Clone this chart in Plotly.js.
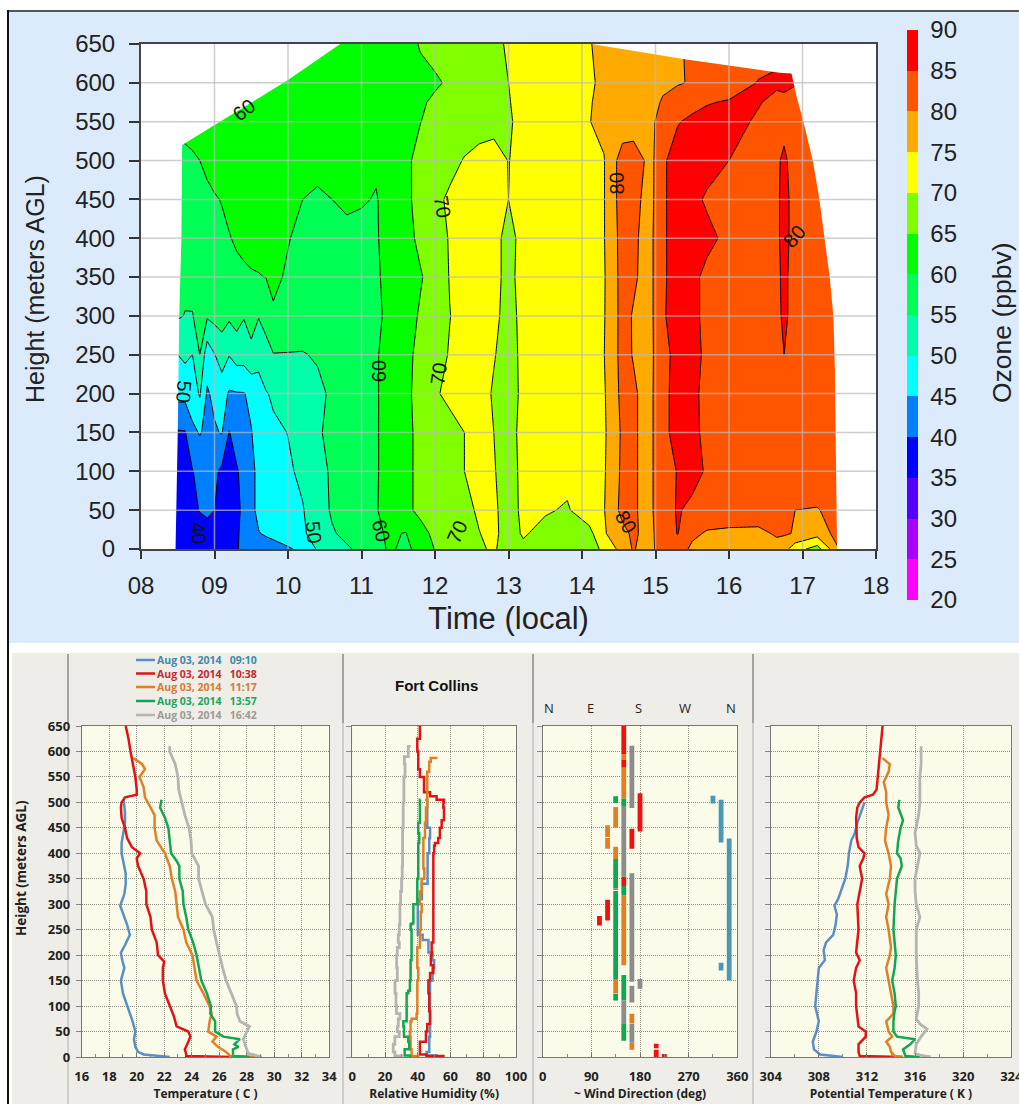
<!DOCTYPE html>
<html>
<head>
<meta charset="utf-8">
<script src="https://cdn.plot.ly/plotly-3.0.1.min.js"></script>
<style>html,body{margin:0;padding:0;background:#fff}#chart{width:1019px;height:1104px}</style>
</head>
<body>
<div id="chart"></div>
<script>
// ---------- ozone curtain data ----------
const ozoneTimes = [8.45,8.6,8.7,8.8,8.9,9,9.1,9.2,9.3,9.4,
  9.5,9.6,9.7,9.8,10,10.2,10.4,10.6,10.8,11,
  11.2,11.4,11.6,11.8,12,12.2,12.4,12.6,12.8,13,
  13.2,13.5,13.8,14.1,14.3,14.55,14.7,14.9,15,15.1,
  15.3,15.5,15.7,16,16.4,16.65,16.75,16.9,17.2,17.5];
const ozoneHeights = [0,20,50,100,150,200,250,300,350,400,450,500,550,575,600,650];
const o3_0 = [35.5,36,36,36.5,37,37,37,37,39.5,41.5,
  42.5,43,43,43.5,44.5,46,50.5,53,54.5,56,
  59,60.5,59,61.5,65.2,68,69.5,69.5,70.5,68,
  69,68,68,68,71,77,80.5,77,80.4,81,
  82.5,79,78.5,78,78,78.5,77,72,68,80];
const o3_20 = [35.5,36,36.5,37,38,38.5,37,36.5,39,42,
  44,44.8,45.5,46,47.5,49.5,51.5,54.6,56,57,
  59.5,60.5,59.8,63.5,66,67,68,69.9,71,68,
  70.5,68.5,68,68.5,74.5,78.5,81,78,80.5,81.5,
  85.2,81,79.5,79,79,80.5,80.5,79.7,77,82];
const o3_50 = [36,37,38.5,40.3,41,40,37.5,36.5,38.5,41.5,
  44,46,47,47.5,48.5,49.7,53,55.5,57.5,58.8,
  59.8,61.5,64,66,67.5,68,69,70.5,70.8,68,
  71,70.5,69.5,73,74.8,81.5,80.8,78,81,82.5,
  85.4,84,83,83,82.5,82,81,80,79.7,82];
const o3_100 = [37,38,39.8,41.5,43,41,39,37.5,39.5,41.5,
  44,46,47,47.8,49.3,51,53.5,55.6,57.5,58.8,
  59.7,61.5,64,66,67.5,68.5,70,71.5,70.3,68,
  71.2,72,71.5,73.5,74.5,81,80.8,78,81,83,
  85.2,86.5,84.5,83,83,83.5,83,84,83.5,83];
const o3_150 = [39.5,39.7,44,45.3,44,44.5,45.3,39.8,42,44,
  44.8,47,48,49,50.1,52,54.5,56,57.5,58.5,
  59.7,61.5,64,66,67.5,68.5,70,72,70,68.5,
  71.2,72,73,74,74.3,80.8,80.8,78,81,83.5,
  87,86,84,83,83,83,83,83,82.5,83];
const o3_200 = [46.5,46.5,47.5,50.5,44.5,46,47,44.5,44.7,44.8,
  46,47.5,49.6,50.8,52,53,53.8,55.8,57,58.5,
  59.7,61.5,64,66.5,69.5,71,72,72,69.5,68,
  71,72,73,74,74.5,81.4,80.8,78,81,83.5,
  87,85.8,84,83,83,83,83.5,83,83,83];
const o3_250 = [49.5,51,50,55,47,49.8,52.5,50.2,52,52,
  54,52,54.5,54.8,54.8,54.7,55.5,56.5,57,58,
  59.7,61.5,64,66,68.3,70.3,71.5,71.8,70.3,68,
  71.2,72,73,74,74.9,81.7,79.7,78,80.8,83.5,
  86.5,85.8,84.5,83,83,84,85,84,83,83];
const o3_300 = [56,54.8,54.8,57,55.6,56.5,56.8,55.8,57,55.3,
  56.5,55.2,55.5,59.5,58,58,58,58,58,58.5,
  59.3,61,63,65.5,67.5,69.9,71.5,71.5,71,68.5,
  71.2,72,73,73.5,74.7,81.7,79.6,78,81,84.5,
  87,87,83,83,83,84.3,85.5,84,83,82];
const o3_350 = [56,56.3,56.5,57,57,57.5,58,58.5,59,59.3,
  59.6,59.8,60.1,60.8,59.5,58.5,58,58,58,58.5,
  59.6,61,62.8,64.6,67,70.2,72,72.3,71,69,
  71.3,72,73,74,74.6,81.8,80.8,78,81,84.3,
  87,86,84,83,83,84.5,85.5,84,83,82];
const o3_400 = [56,56.5,57,57.5,58,58.5,59,59.8,60.5,61,
  61.5,61.5,61.5,61,60.2,59,58.5,58.5,58.5,59,
  59.7,61.5,63.5,66,68,70.3,72,72,71,69,
  71,72,73,74,74.8,81.9,81,78,81,84.3,
  87,87,86,84,83,84.5,85.8,84,83,82];
const o3_450 = [57,57.5,58,58.5,59,59.6,60.2,61,61.5,62,
  62,62,62,62,61,60,59,60,61,60.3,
  59.8,61.5,64,66.5,68.8,70.8,71.5,72,71.5,70,
  71,72,73,74,74.8,82.4,81.5,78.5,80.5,84.3,
  87,86,84.5,83,83,84.5,85.8,84,83,82];
const o3_500 = [58,58.5,59.3,60,61,62,62,62,62,62,
  62,62,62,62,62,62,62,62,62,61,
  60.5,62,64,66.5,67.5,68.5,70.3,71.5,71.5,69.9,
  71.2,72,73,74,74.8,82.4,82,79.3,80.2,84.3,
  87,87,86.5,85,83.5,84.5,85.6,83.5,83,82];
const o3_550 = [62,62,62,62,62,62,62,62,62,62,
  62,62,62,62,62,62,62,62,62,63,
  63.5,64,64.5,64.9,66.5,67,67.5,68,68.8,69.6,
  71,72,73.5,74.9,76,77,78,79,80.1,82,
  84.7,86,86.5,86,84.6,83.5,84,84,83,82];
const o3_575 = [62,62,62,62,62,62,62,62,62,62,
  62,62,62,62,62,62,62,62,62,63,
  63.2,63.8,64.2,64.6,65.5,66.2,67,67.8,68.8,69.8,
  71.2,72.2,73.5,74.8,75.8,76.8,77.5,78.5,79.2,80.5,
  82.5,83.5,84.7,85.4,85.2,84.2,84.5,84.5,83,82];
const o3_600 = [62,62,62,62,62,62,62,62,62,62,
  62,62,62,62,62,62,62,62,62.5,63,
  63,63.5,64,64.3,64.6,65.4,66.5,67.5,68.8,70,
  71.5,72.5,73.5,74.6,75.6,76.5,77,78,78.5,79,
  79.6,80.4,81.5,82.5,85.2,85.5,85.5,85.1,83,82];
const o3_650 = [61,61,61,61,61,61,61,61,61,61,
  61,61,61,61,61,61,61,61,62,62.5,
  63,63.5,64,65.2,66,67,67.5,68,69,70.5,
  71.5,72.5,73.5,74.8,76,77,77.5,78,78.5,79,
  79.6,80.6,81.5,82,83,84,85.5,85.5,84,83];
const ozoneRows = [o3_0,o3_20,o3_50,o3_100,o3_150,o3_200,o3_250,o3_300,o3_350,o3_400,o3_450,o3_500,o3_550,o3_575,o3_600,o3_650];

// edge of the sampled area: [time, height], bottom-left, over the top, down to bottom-right
const sampledEdge = [[8.47,0],[8.5,150],[8.52,300],[8.55,400],[8.56,520],[8.99,545],[9.99,603],[10.71,650],[14.13,650],
  [15.42,630],[16.69,613],[16.85,612],[16.92,582],[17.01,551],[17.14,500],[17.23,450],[17.3,400],[17.37,350],[17.42,300],[17.44,233],[17.47,0]];

const ozoneBandColors = ['#ff00ff','#aa00ff','#5500ff','#0000ff','#0080ff','#00ffff','#00ffaa','#00ff55','#00ff00','#80ff00','#ffff00','#ffaa00','#ff5500','#ff0000'];
const ozoneTicks = [20,25,30,35,40,45,50,55,60,65,70,75,80,85,90];
const hourTicks = [8,9,10,11,12,13,14,15,16,17,18];
const hourLabels = ['08','09','10','11','12','13','14','15','16','17','18'];
const heightTicks = [0,50,100,150,200,250,300,350,400,450,500,550,600,650];

// [text, time, height, angle]
const contourLabels = [['60',9.4,565,-38],['50',8.58,203,95],['40',8.78,20,85],['50',10.35,22,85],['60',11.26,24,75],
  ['60',11.24,229,-90],['70',12.05,225,-82],['70',12.1,440,80],['70',12.3,22,-65],['80',14.47,470,-92],['80',16.89,403,-50],['80',14.6,35,60]];

// ---------- profile data: [height, value] ----------
const seriesNames = ['Aug 03, 2014\u00a0\u00a0\u00a009:10','Aug 03, 2014\u00a0\u00a0\u00a010:38','Aug 03, 2014\u00a0\u00a0\u00a011:17','Aug 03, 2014\u00a0\u00a0\u00a013:57','Aug 03, 2014\u00a0\u00a0\u00a016:42'];
const seriesColors = ['#5a8fc3','#e01414','#e07f26','#12a552','#b4b4b0'];
const legendTextColors = ['#3f88ad','#c22a30','#d27c35','#1fa562','#9a9a98'];
const windColors = ['#4a98b6','#f01010','#e08020','#12a552','#8c8c8c'];

const tempBlue = [[0,22.4],[3,21.2],[5,20.5],[10,20.1],[20,19.9],[35,19.8],[50,19.9],[70,19.7],[100,19.3],[125,19],[150,18.85],[175,19.1],[190,18.95],[205,18.85],[220,19.15],[240,19.5],[260,19.3],[280,19.05],[297,18.8],[320,19.1],[340,19.2],[360,19.2],[380,19.05],[400,18.9],[420,18.9],[440,19.05],[460,19.15],[480,19.15],[505,19.05]];
const tempRed = [[0,27],[2,23.6],[5,23.6],[15,23.5],[30,23.75],[40,23.9],[50,23.75],[60,22.9],[80,22.7],[100,22.4],[125,22.05],[150,21.9],[175,21.9],[187,22],[200,21.55],[225,21.45],[250,21.1],[275,21],[300,20.7],[325,20.7],[350,20.5],[375,20.1],[390,20],[400,20.25],[412,19.65],[430,19.3],[450,19.15],[470,18.9],[490,18.85],[500,18.9],[510,19.15],[515,20],[525,20],[550,19.9],[575,19.7],[600,19.55],[625,19.4],[650,19.2]];
const tempOrange = [[0,28.8],[2,26.8],[10,26.5],[20,25.9],[30,25.5],[40,25.8],[50,25.2],[70,25.3],[85,25.45],[100,25.3],[125,24.85],[150,24.35],[175,24.2],[200,24.05],[225,23.6],[250,23.4],[275,23],[300,22.9],[325,22.8],[350,22.55],[375,22.4],[400,22.05],[425,21.45],[450,21.3],[475,21.3],[490,21],[510,20.6],[530,20.5],[550,20.2],[565,20.6],[575,20.4],[587,19.75]];
const tempGreen = [[0,28.2],[2,27],[15,27],[20,27.4],[25,27.1],[35,27.5],[40,26.3],[50,25.7],[70,25.7],[85,25.35],[100,25.4],[125,25.1],[150,24.7],[175,24.55],[200,24.35],[225,24.1],[250,23.75],[275,23.6],[300,23.4],[325,23.35],[350,23.1],[375,23.1],[385,22.9],[400,22.5],[425,22.4],[450,22.3],[470,22.05],[490,21.7],[505,21.8]];
const tempGray = [[0,29.1],[3,28.7],[7,28.1],[15,28],[35,27.75],[50,28],[60,28.2],[70,27.5],[85,27.3],[100,27.25],[125,26.9],[150,26.5],[175,26.25],[200,26],[225,25.8],[250,25.6],[275,25.5],[300,25],[325,24.75],[350,24.5],[375,24.5],[400,24],[425,23.95],[450,23.8],[475,23.5],[500,23.25],[525,23.05],[550,23],[575,22.8],[600,22.4],[610,22.4]];

const rhBlue = [[0,51.5],[3,45.4],[10,47],[40,47.5],[100,47.5],[150,49],[175,50],[190,49],[205,46.5],[230,43],[240,40],[300,40],[310,42.5],[330,42.5],[340,46],[380,46],[400,47],[420,47],[430,47.5],[450,45.8],[490,45.8],[505,44.5]];
const rhRed = [[0,55.6],[2,45.4],[5,41.3],[15,41.3],[30,45],[50,45.8],[65,47.5],[90,47],[125,46.5],[150,47.5],[165,49.5],[180,48],[200,48.5],[225,49.5],[300,49.5],[350,49.5],[400,50],[415,50.5],[420,52.5],[430,53.5],[450,54.6],[465,56],[490,55.6],[500,56],[505,51.5],[512,47.5],[520,43.8],[550,41.3],[565,40.3],[600,39.7],[625,41.3],[650,41.7]];
const rhOrange = [[0,40.3],[2,36.2],[15,35.6],[40,35.2],[50,35.6],[70,36.2],[75,39.3],[85,39.7],[100,39.7],[130,39.7],[150,40.3],[175,39.7],[200,39.7],[215,41.3],[250,41.8],[285,42.4],[300,41.3],[325,42.4],[350,44],[370,43.4],[400,43.4],[430,44.4],[460,45],[480,45],[490,45.8],[510,45.8],[530,45.8],[560,47],[580,47.9],[587,52]];
const rhGreen = [[0,35.2],[3,32],[15,34.8],[30,34.2],[40,31.6],[60,31.2],[70,33.2],[100,33.2],[125,34.2],[130,35.2],[150,35.6],[175,35.6],[190,36.2],[200,36.2],[250,35.6],[260,36.2],[262,37.3],[280,37.3],[300,39.7],[350,40.3],[400,40.3],[420,40.9],[440,40.3],[460,41.3],[505,41.7]];
const rhGray = [[0,30],[2,26],[10,25],[25,26],[40,28.7],[50,27.5],[60,28.1],[75,29.1],[85,27],[100,26.7],[125,26.1],[150,27.5],[175,27.1],[200,27.5],[215,28.7],[225,28.1],[240,28.7],[260,29.1],[300,29.5],[325,30.1],[350,30.5],[375,30.7],[400,30.7],[450,31.1],[500,31.5],[550,32.2],[575,31.8],[590,34.2],[610,35.6]];

// [direction, bottom height, top height]
const windBlue = [[315,498,513],[330,421,505],[330,170,185],[345,150,429]];
const windRed = [[150,595,650],[150,568,583],[180,443,518],[165,409,448],[150,336,354],[120,268,309],[105,258,277],[210,17,26],[210,0,14],[225,0,6]];
const windOrange = [[150,583,595],[150,507,568],[135,450,491],[120,432,455],[120,409,430],[135,389,413],[135,328,331],[150,180,317],[135,125,153],[165,67,85],[165,14,28]];
const windGreen = [[135,499,512],[150,493,507],[135,331,389],[150,317,336],[135,153,326],[150,111,161],[135,111,124],[150,32,65]];
const windGray = [[165,489,611],[150,354,493],[165,148,361],[180,134,153],[165,107,140],[150,65,111],[165,28,66]];

const thetaBlue = [[0,310],[3,308.9],[5,308.1],[15,307.6],[30,307.5],[50,307.8],[70,308],[100,307.7],[125,307.8],[150,307.9],[175,308],[190,308.5],[210,308.4],[225,308.6],[240,309.2],[260,309.4],[280,309.5],[297,309.3],[310,309.6],[330,309.9],[350,310.2],[375,310.4],[400,310.5],[425,310.7],[440,311],[460,311.2],[480,311.5],[500,311.8]];
const thetaRed = [[0,315],[2,311.4],[10,311.3],[25,311.3],[40,311.9],[50,311.9],[60,311.3],[80,311.2],[100,311.1],[125,311.1],[150,310.9],[175,311.1],[190,311.4],[205,311.1],[225,311.2],[250,311.3],[300,311.2],[325,311.4],[350,311.6],[375,311.4],[390,311.7],[400,311.8],[412,311.3],[430,311.15],[450,311.15],[470,311.1],[490,311.2],[500,311.4],[510,311.8],[515,312.5],[525,312.8],[550,312.9],[575,313],[600,313.1],[625,313.2],[650,313.3]];
const thetaOrange = [[0,315],[2,314.3],[10,314],[20,313.9],[30,313.6],[40,314.1],[50,313.8],[70,313.6],[85,314.2],[100,314.2],[125,314],[150,313.8],[175,313.6],[200,313.9],[215,314],[250,313.8],[275,313.6],[300,313.8],[320,313.6],[350,313.9],[375,314],[400,313.8],[425,313.5],[450,313.6],[475,313.8],[500,313.6],[520,313.6],[540,313.4],[560,313.8],[575,313.9],[587,313.3]];
const thetaGreen = [[0,316.4],[2,315.2],[15,315],[25,315.6],[35,316],[40,314.5],[50,314.2],[70,314.2],[90,314.3],[100,314.4],[125,314.3],[150,314.1],[175,314.3],[200,314.4],[250,314.2],[300,314.3],[350,314.5],[375,314.9],[390,314.8],[400,314.5],[425,314.6],[450,314.8],[465,315],[490,314.6],[505,314.7]];
const thetaGray = [[0,317.3],[3,316.5],[8,316],[25,316.1],[40,316.5],[55,317],[65,316.4],[75,316.1],[100,316.3],[125,316.3],[150,316.2],[200,316.1],[250,316.1],[275,316.4],[300,316.1],[325,316],[350,316],[375,316.2],[400,316.4],[415,316.1],[440,316],[475,316.3],[500,316.4],[525,316.4],[550,316.4],[575,316.5],[600,316.5],[610,316.5]];

// ---------- helpers ----------
const W = 1019, H = 1104;
const fx = p => p / W;
const fy = p => 1 - p / H;
const arial = 'Liberation Sans, Arial, sans-serif';
const cal = '"Open Sans", Lato, sans-serif';

const colorscale = [];
ozoneBandColors.forEach((c, i) => {
  colorscale.push([i / ozoneBandColors.length, c]);
  colorscale.push([(i + 1) / ozoneBandColors.length, c]);
});

const maskX = [8].concat(sampledEdge.map(p => p[0]), [18, 18, 8, 8]);
const maskY = [0].concat(sampledEdge.map(p => p[1]), [0, 650, 650, 0]);

const traces = [
  {type:'contour', x:ozoneTimes, y:ozoneHeights, z:ozoneRows, xaxis:'x', yaxis:'y', zauto:false, zmin:20, zmax:90,
   autocontour:false, contours:{start:20,end:90,size:5,coloring:'fill',showlines:false}, line:{width:0,smoothing:0},
   colorscale:colorscale, hoverinfo:'skip', showlegend:false,
   colorbar:{x:fx(907), xanchor:'left', xpad:0, y:fy(315), yanchor:'middle', ypad:0, lenmode:'pixels', len:570,
     thicknessmode:'pixels', thickness:11, outlinewidth:0, ticks:'outside', ticklen:8, tickcolor:'rgba(0,0,0,0)', tickvals:ozoneTicks,
     tickfont:{family:arial,size:24,color:'#222'}}},
  {type:'contour', x:ozoneTimes, y:ozoneHeights, z:ozoneRows, xaxis:'x', yaxis:'y', zauto:false, zmin:20, zmax:90,
   autocontour:false, contours:{start:20,end:90,size:5,coloring:'none',showlines:true}, line:{color:'#000',width:1,smoothing:0},
   showscale:false, hoverinfo:'skip', showlegend:false},
  {type:'scatter', mode:'lines', x:maskX, y:maskY, xaxis:'x', yaxis:'y', fill:'toself', fillcolor:'#ffffff', line:{width:0},
   hoverinfo:'skip', showlegend:false}
];

function profile(list, i, xa, ya, stepped) {
  return {type:'scatter', mode:'lines', x:list.map(p => p[1]), y:list.map(p => p[0]), xaxis:xa, yaxis:ya,
    line:{color:seriesColors[i], width:i === 4 ? 2.8 : 2.5, shape:stepped ? 'vh' : 'linear'},
    name:seriesNames[i], showlegend:false};
}
[tempBlue,tempRed,tempOrange,tempGreen,tempGray].forEach((s, i) => traces.push(profile(s, i, 'x2', 'y2', false)));
[rhBlue,rhRed,rhOrange,rhGreen,rhGray].forEach((s, i) => traces.push(profile(s, i, 'x3', 'y3', true)));
[windBlue,windRed,windOrange,windGreen,windGray].forEach((s, i) => {
  const xs = [], ys = [];
  s.forEach(b => { xs.push(b[0], b[0], null); ys.push(b[1], b[2], null); });
  traces.push({type:'scatter', mode:'lines', x:xs, y:ys, xaxis:'x4', yaxis:'y4', line:{color:windColors[i], width:4.8}, showlegend:false, connectgaps:false});
});
[thetaBlue,thetaRed,thetaOrange,thetaGreen,thetaGray].forEach((s, i) => traces.push(profile(s, i, 'x5', 'y5', false)));

const panelGrid = {showgrid:true, gridcolor:'#8f8f8a', griddash:'1px,1px', gridwidth:1, zeroline:false,
  showline:true, linecolor:'#777', linewidth:1, mirror:true};
function bottomX(dom, range, dtick, minor, anchor, title) {
  return Object.assign({domain:[fx(dom[0]), fx(dom[1])], range:range, anchor:anchor, dtick:dtick, tick0:range[0], tickmode:'linear',
    ticks:'inside', ticklen:4, tickcolor:'#777', tickwidth:1, ticklabelstandoff:7, ticklabeloverflow:'allow',
    minor:{dtick:minor, ticks:'inside', ticklen:3, tickcolor:'#888', showgrid:false},
    tickfont:{family:cal,size:13,weight:'bold',color:'#222'},
    title:{text:title, standoff:3, font:{family:cal,size:12,weight:'bold',color:'#222'}}}, panelGrid);
}
function bottomY(anchor, showLabels) {
  return Object.assign({domain:[fy(1057), fy(726)], range:[0,650], anchor:anchor, tickmode:'array', tickvals:heightTicks,
    ticks:'outside', ticklen:5, tickcolor:'#888', showticklabels:showLabels, ticklabelstandoff:3,
    tickfont:{family:cal,size:13,weight:'bold',color:'#222'}}, panelGrid);
}

const shapes = [
  {type:'rect', xref:'paper', yref:'paper', x0:fx(8), x1:1, y0:fy(643), y1:fy(11), fillcolor:'#dbebfc', line:{width:0}, layer:'below'},
  {type:'rect', xref:'paper', yref:'paper', x0:fx(12), x1:1, y0:0, y1:fy(653), fillcolor:'#efede7', line:{width:0}, layer:'below'},
  {type:'line', xref:'paper', yref:'paper', x0:fx(8), x1:1, y0:fy(11), y1:fy(11), line:{color:'#555',width:2}, layer:'below'},
  {type:'line', xref:'paper', yref:'paper', x0:fx(8), x1:fx(8), y0:0, y1:fy(10), line:{color:'#111',width:2}, layer:'below'}
];
[68,343,533,753].forEach(x => {
  shapes.push({type:'line', xref:'paper', yref:'paper', x0:fx(x), x1:fx(x), y0:fy(723), y1:fy(654), line:{color:'#8a8a88',width:1.5}, layer:'below'});
  shapes.push({type:'line', xref:'paper', yref:'paper', x0:fx(x), x1:fx(x), y0:0, y1:fy(723), line:{color:'#c4c4c0',width:1.5}, layer:'below'});
});
const gridLine = {color:'rgba(185,185,185,0.7)', width:1.5};
hourTicks.slice(1,-1).forEach(t => shapes.push({type:'line', xref:'x', yref:'y', x0:t, x1:t, y0:0, y1:650, line:gridLine, layer:'above'}));
heightTicks.slice(1,-1).forEach(h => shapes.push({type:'line', xref:'x', yref:'y', x0:8, x1:18, y0:h, y1:h, line:gridLine, layer:'above'}));

const annotations = contourLabels.map(l => ({xref:'x', yref:'y', x:l[1], y:l[2], text:l[0], textangle:l[3], showarrow:false,
  font:{family:arial,size:20,color:'#111'}}));
function paperText(x, y, text, angle, font, xanchor) {
  annotations.push({xref:'paper', yref:'paper', x:fx(x), y:fy(y), xanchor:xanchor || 'center', yanchor:'middle', text:text, textangle:angle, showarrow:false, font:font});
}
paperText(1002, 323, 'Ozone (ppbv)', -90, {family:arial,size:26.5,color:'#222'});
paperText(35, 289, 'Height (meters AGL)', -90, {family:arial,size:25,color:'#222'});
paperText(21, 868, 'Height (meters AGL)', -90, {family:cal,size:13.5,weight:'bold',color:'#222'});
paperText(436, 685, 'Fort Collins', 0, {family:arial,size:15,weight:'bold',color:'#111'});
[['N',549],['E',590],['S',638],['W',685],['N',731]].forEach(c => paperText(c[1], 708, c[0], 0, {family:cal,size:13,color:'#222'}));
const legendRows = [660,673.5,687,701,715];
seriesNames.forEach((n, i) => {
  paperText(155, legendRows[i], n, 0, {family:cal,size:10.5,weight:'bold',color:legendTextColors[i]}, 'left');
  shapes.push({type:'line', xref:'paper', yref:'paper', x0:fx(136), x1:fx(155), y0:fy(legendRows[i]), y1:fy(legendRows[i]), line:{color:seriesColors[i],width:2.5}, layer:'above'});
});

const layout = {
  width:W, height:H, margin:{l:0,r:0,t:0,b:0,pad:0}, autosize:false, paper_bgcolor:'#ffffff', plot_bgcolor:'#ffffff', showlegend:false,
  xaxis:{domain:[fx(141),fx(876)], range:[8,18], anchor:'y', tickmode:'array', tickvals:hourTicks, ticktext:hourLabels,
    ticks:'outside', ticklen:8, tickwidth:2, tickcolor:'#333', ticklabelstandoff:6, showgrid:false, zeroline:false,
    showline:true, linecolor:'#444', linewidth:2, mirror:true,
    tickfont:{family:arial,size:24,color:'#222'},
    title:{text:'Time (local)', standoff:10, font:{family:arial,size:31,color:'#222'}}},
  yaxis:{domain:[fy(549),fy(44)], range:[0,650], anchor:'x', tickmode:'array', tickvals:heightTicks,
    ticks:'outside', ticklen:10, tickwidth:2, tickcolor:'#333', ticklabelstandoff:9, showgrid:false, zeroline:false,
    showline:true, linecolor:'#444', linewidth:2, mirror:true,
    tickfont:{family:arial,size:24,color:'#222'}},
  xaxis2:bottomX([81.7,329.3],[16,34],2,1,'y2','Temperature ( C )'),
  yaxis2:bottomY('x2',true),
  xaxis3:bottomX([352.3,516],[0,100],20,10,'y3','Relative Humidity (%)'),
  yaxis3:bottomY('x3',false),
  xaxis4:bottomX([542.7,737.3],[0,360],90,45,'y4','~ Wind Direction (deg)'),
  yaxis4:bottomY('x4',false),
  xaxis5:bottomX([770.7,1011.3],[304,324],4,2,'y5','Potential Temperature ( K )'),
  yaxis5:bottomY('x5',false),
  shapes:shapes, annotations:annotations
};
// plot-area backgrounds for the profile panels
[2,3,4,5].forEach(function(n){
  const d = layout['xaxis' + n].domain;
  layout.shapes.push({type:'rect', xref:'paper', yref:'paper', x0:d[0], x1:d[1], y0:fy(1057), y1:fy(726), fillcolor:'#fbfbea', line:{width:0}, layer:'below'});
});

Plotly.newPlot('chart', traces, layout, {displayModeBar:false, staticPlot:true});
</script>
</body>
</html>
